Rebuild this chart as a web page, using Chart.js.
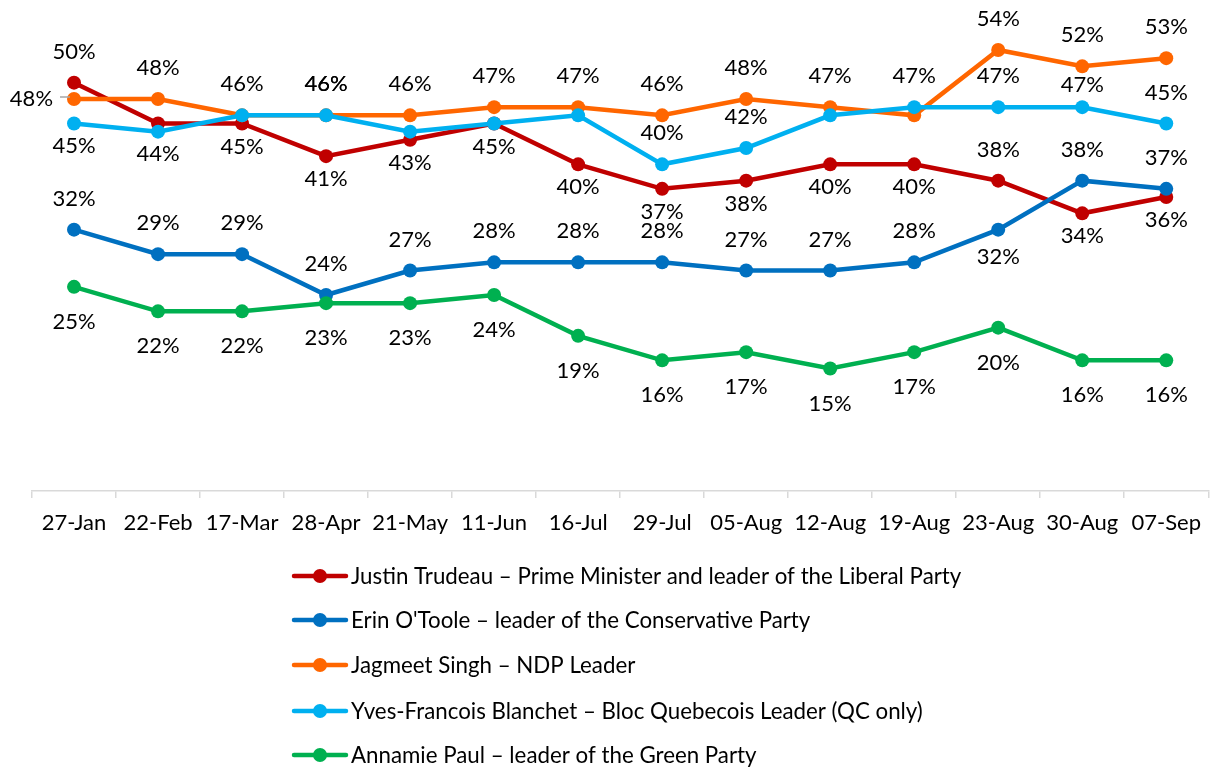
<!DOCTYPE html>
<html>
<head>
<meta charset="utf-8">
<script src="https://cdn.jsdelivr.net/npm/chart.js@4/dist/chart.umd.min.js"></script>
<style>
  html, body { margin: 0; padding: 0; background: #fff; }
  #wrap { width: 1213px; height: 769px; position: relative; }
</style>
</head>
<body>
<div id="wrap"><canvas id="chart"></canvas></div>
<script>
// data
const dates = ["27-Jan", "22-Feb", "17-Mar", "28-Apr", "21-May", "11-Jun", "16-Jul",
               "29-Jul", "05-Aug", "12-Aug", "19-Aug", "23-Aug", "30-Aug", "07-Sep"];
const trudeau  = [50, 45, 45, 41, 43, 45, 40, 37, 38, 40, 40, 38, 34, 36];
const otoole   = [32, 29, 29, 24, 27, 28, 28, 28, 27, 27, 28, 32, 38, 37];
const singh    = [48, 48, 46, 46, 46, 47, 47, 46, 48, 47, 46, 54, 52, 53];
const blanchet = [45, 44, 46, 46, 44, 45, 46, 40, 42, 46, 47, 47, 47, 45];
const paul     = [25, 22, 22, 23, 23, 24, 19, 16, 17, 15, 17, 20, 16, 16];

const names = [
    "Justin Trudeau \u2013 Prime Minister and leader of the Liberal Party",
    "Erin O'Toole \u2013 leader of the Conservative Party",
    "Jagmeet Singh \u2013 NDP Leader",
    "Yves-Francois Blanchet \u2013 Bloc Quebecois Leader (QC only)",
    "Annamie Paul \u2013 leader of the Green Party"
];
const colors = ["#C00000", "#0070C0", "#FF6600", "#00B0F0", "#00B050"];

// where each data label sits: a = above, n = just above, b = below, l = left, '' = hidden
const labelPos = [
    ['a','','b','b','b','b','b','b','b','b','b','a','b','b'],
    ['a','a','a','a','a','a','a','a','a','a','a','b','a','a'],
    ['l','a','a','a','a','a','a','a','a','a','','a','a','a'],
    ['b','b','','a','','','','a','a','','a','a','n','a'],
    ['b','b','b','b','b','b','b','b','b','b','b','b','b','b']
];
// distance of a "below" label from its point, per series
const belowGap = [23, 27, 24, 22, 35];

const FONT = "Lato, 'Open Sans', sans-serif";
const series = [trudeau, otoole, singh, blanchet, paul];

const labelPlugin = {
    id: 'pctLabels',
    afterDatasetsDraw(chart) {
        const ctx = chart.ctx;
        ctx.save();
        ctx.font = "22px " + FONT;
        ctx.fillStyle = "#000";
        ctx.textBaseline = "middle";
        chart.data.datasets.forEach((ds, i) => {
            const meta = chart.getDatasetMeta(i);
            meta.data.forEach((pt, j) => {
                const pos = labelPos[i][j];
                if (!pos) return;
                const txt = ds.data[j] + "%";
                if (pos === 'l') {
                    ctx.textAlign = "right";
                    ctx.fillText(txt, pt.x - 21, pt.y);
                    ctx.strokeStyle = "#A6A6A6";
                    ctx.lineWidth = 1.5;
                    ctx.beginPath();
                    ctx.moveTo(pt.x - 14, pt.y - 2);
                    ctx.lineTo(pt.x - 4, pt.y - 2);
                    ctx.stroke();
                } else {
                    const dy = pos === 'a' ? -31 : pos === 'n' ? -22 : belowGap[i];
                    ctx.textAlign = "center";
                    ctx.fillText(txt, pt.x, pt.y + dy);
                }
            });
        });
        ctx.restore();
    },
    afterDraw(chart) {
        // legend, one entry per row
        const ctx = chart.ctx;
        ctx.save();
        ctx.font = "22.3px " + FONT;
        ctx.textBaseline = "middle";
        ctx.textAlign = "left";
        const rows = [576, 620, 665, 711, 755];
        names.forEach((n, i) => {
            const y = rows[i];
            ctx.strokeStyle = colors[i];
            ctx.lineWidth = 4.5;
            ctx.lineCap = "round";
            ctx.beginPath();
            ctx.moveTo(294, y);
            ctx.lineTo(346, y);
            ctx.stroke();
            ctx.fillStyle = colors[i];
            ctx.beginPath();
            ctx.arc(320, y, 7, 0, Math.PI * 2);
            ctx.fill();
            ctx.fillStyle = "#000";
            ctx.fillText(n, 351, y + 1);
        });
        ctx.restore();
    }
};

const datasets = series.map((s, i) => ({
    label: names[i],
    data: s,
    borderColor: colors[i],
    backgroundColor: colors[i],
    borderWidth: 4.5,
    pointRadius: 7,
    pointHoverRadius: 7,
    pointBorderWidth: 0,
    tension: 0,
    clip: false,
    order: 5 - i
}));

new Chart(document.getElementById("chart"), {
    type: 'line',
    data: { labels: dates, datasets: datasets },
    options: {
        responsive: true,
        maintainAspectRatio: false,
        animation: false,
        layout: { autoPadding: false, padding: { left: 32, right: 0, top: 1, bottom: 228 } },
        plugins: { legend: { display: false }, tooltip: { enabled: false } },
        scales: {
            x: {
                offset: true,
                grid: { drawOnChartArea: false, offset: true, color: "#D9D9D9", tickLength: 7, lineWidth: 1.5 },
                border: { color: "#D9D9D9", width: 1.5 },
                ticks: { color: "#000", font: { family: FONT, size: 22 }, padding: 12, maxRotation: 0, autoSkip: false },
                afterFit(scale) { scale.height = 50; }
            },
            y: {
                display: false,
                min: 0,
                max: 60
            }
        }
    },
    plugins: [labelPlugin]
});
</script>
</body>
</html>
